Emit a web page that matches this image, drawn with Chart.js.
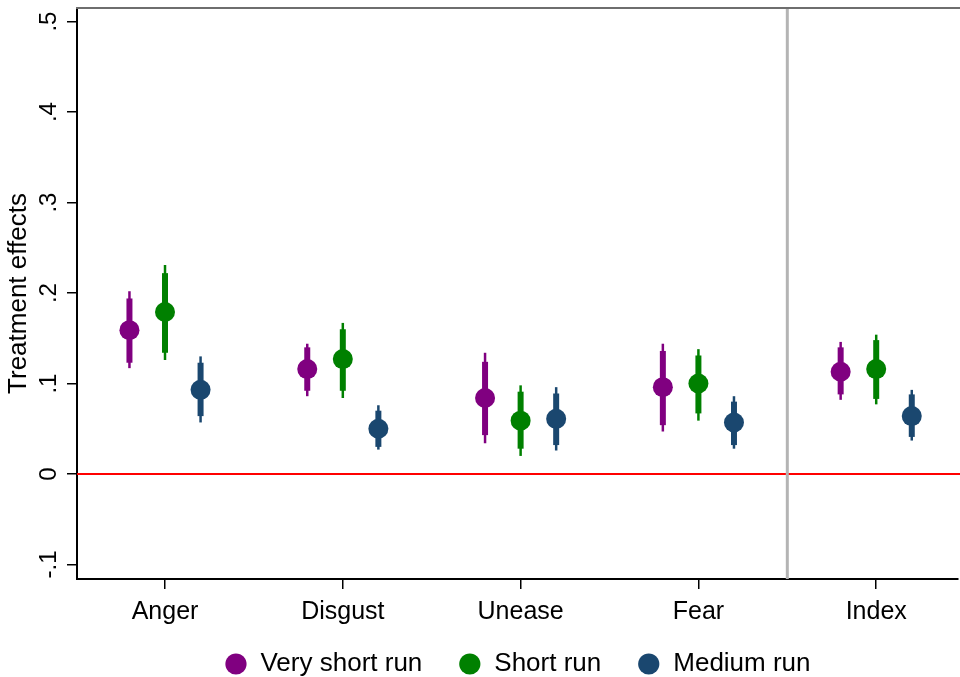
<!DOCTYPE html>
<html>
<head>
<meta charset="utf-8">
<script src="https://cdn.jsdelivr.net/npm/chart.js@4.4.0/dist/chart.umd.min.js"></script>
<style>
  html, body { margin: 0; padding: 0; background: #fff; overflow: hidden; }
  #wrap { width: 960px; height: 677px; }
</style>
</head>
<body>
<div id="wrap"><canvas id="c" width="960" height="677"></canvas></div>
<script>
// ---- data ----
const categories = ['Anger', 'Disgust', 'Unease', 'Fear', 'Index'];
const seriesNames = ['Very short run', 'Short run', 'Medium run'];
const seriesColors = ['#800080', '#008000', '#1a476f'];

const veryShortEst  = [0.159, 0.116, 0.084, 0.096, 0.113];
const veryShortLo90 = [0.123, 0.092, 0.043, 0.054, 0.088];
const veryShortHi90 = [0.194, 0.140, 0.124, 0.136, 0.140];
const veryShortLo95 = [0.117, 0.086, 0.034, 0.047, 0.082];
const veryShortHi95 = [0.202, 0.144, 0.134, 0.144, 0.146];

const shortEst  = [0.179, 0.127, 0.059, 0.100, 0.116];
const shortLo90 = [0.134, 0.092, 0.028, 0.067, 0.083];
const shortHi90 = [0.222, 0.160, 0.091, 0.131, 0.148];
const shortLo95 = [0.126, 0.084, 0.020, 0.059, 0.077];
const shortHi95 = [0.231, 0.167, 0.098, 0.138, 0.154];

const mediumEst  = [0.093, 0.050, 0.061, 0.057, 0.064];
const mediumLo90 = [0.064, 0.030, 0.032, 0.032, 0.041];
const mediumHi90 = [0.123, 0.070, 0.089, 0.080, 0.088];
const mediumLo95 = [0.057, 0.027, 0.026, 0.028, 0.037];
const mediumHi95 = [0.130, 0.076, 0.096, 0.086, 0.093];

const yTickValues = [-0.1, 0, 0.1, 0.2, 0.3, 0.4, 0.5];
const yTickLabels = ['-.1', '0', '.1', '.2', '.3', '.4', '.5'];
const xTickValues = [1, 2, 3, 4, 5];
const separatorAt = 4.5;

// ---- assembled ----
const series = [
  {est: veryShortEst, lo90: veryShortLo90, hi90: veryShortHi90, lo95: veryShortLo95, hi95: veryShortHi95},
  {est: shortEst, lo90: shortLo90, hi90: shortHi90, lo95: shortLo95, hi95: shortHi95},
  {est: mediumEst, lo90: mediumLo90, hi90: mediumHi90, lo95: mediumLo95, hi95: mediumHi95}
];
const offsets = [-0.2, 0, 0.2];

const FONT = "'Liberation Sans', Arial, Helvetica, sans-serif";
const LEGEND_H = 62;
const XAXIS_H = 36;

const datasets = series.map((s, k) => ({
  label: seriesNames[k],
  data: s.est.map((v, i) => ({x: xTickValues[i] + offsets[k], y: v})),
  backgroundColor: seriesColors[k],
  borderColor: seriesColors[k],
  borderWidth: 0,
  pointRadius: 10,
  pointHoverRadius: 10,
  pointStyle: 'circle',
  clip: false
}));

const decorPlugin = {
  id: 'decor',
  beforeLayout(chart) {
    const lg = chart.legend;
    if (lg && !lg._patched) {
      const f = lg.fit;
      lg.fit = function () { f.call(this); this.height = LEGEND_H; };
      lg._patched = true;
    }
  },
  beforeDatasetsDraw(chart) {
    const ctx = chart.ctx, xs = chart.scales.x, ys = chart.scales.y, a = chart.chartArea;
    ctx.save();
    // zero line
    ctx.strokeStyle = '#ff0000';
    ctx.lineWidth = 2;
    ctx.beginPath();
    const y0 = ys.getPixelForValue(0);
    ctx.moveTo(a.left, y0); ctx.lineTo(a.right + 2, y0); ctx.stroke();
    // separator
    ctx.strokeStyle = '#b4b4b4';
    ctx.lineWidth = 3;
    ctx.beginPath();
    const xsep = xs.getPixelForValue(separatorAt);
    ctx.moveTo(xsep, a.top); ctx.lineTo(xsep, a.bottom); ctx.stroke();
    // error bars
    ctx.lineCap = 'butt';
    series.forEach((s, k) => {
      ctx.strokeStyle = seriesColors[k];
      s.est.forEach((v, i) => {
        const x = xs.getPixelForValue(xTickValues[i] + offsets[k]);
        ctx.lineWidth = 2.5;
        ctx.beginPath();
        ctx.moveTo(x, ys.getPixelForValue(s.lo95[i]));
        ctx.lineTo(x, ys.getPixelForValue(s.hi95[i]));
        ctx.stroke();
        ctx.lineWidth = 6;
        ctx.beginPath();
        ctx.moveTo(x, ys.getPixelForValue(s.lo90[i]));
        ctx.lineTo(x, ys.getPixelForValue(s.hi90[i]));
        ctx.stroke();
      });
    });
    ctx.restore();
  },
  afterDraw(chart) {
    const ctx = chart.ctx, xs = chart.scales.x, ys = chart.scales.y, a = chart.chartArea;
    ctx.save();
    // top frame
    ctx.strokeStyle = '#6e6e6e';
    ctx.lineWidth = 2;
    ctx.beginPath();
    ctx.moveTo(a.left - 1, a.top); ctx.lineTo(960, a.top); ctx.stroke();
    ctx.fillStyle = '#000';
    // rotated y tick labels
    ctx.font = '24px ' + FONT;
    ctx.textAlign = 'center';
    ctx.textBaseline = 'alphabetic';
    yTickValues.forEach((v, i) => {
      const y = ys.getPixelForValue(v);
      ctx.save();
      ctx.translate(56, y);
      ctx.rotate(-Math.PI / 2);
      ctx.fillText(yTickLabels[i], 0, 0);
      ctx.restore();
    });
    // x category labels
    ctx.font = '25px ' + FONT;
    ctx.textAlign = 'center';
    ctx.textBaseline = 'alphabetic';
    xTickValues.forEach((v, i) => {
      ctx.fillText(categories[i], xs.getPixelForValue(v), a.bottom + 40);
    });
    ctx.restore();
  }
};

new Chart(document.getElementById('c'), {
  type: 'scatter',
  data: { datasets },
  plugins: [decorPlugin],
  options: {
    responsive: false,
    animation: false,
    devicePixelRatio: 1,
    layout: { autoPadding: false, padding: { top: 8, right: 2, left: 0, bottom: 0 } },
    plugins: {
      tooltip: { enabled: false },
      legend: {
        position: 'bottom',
        fullSize: false,
        align: 'center',
        labels: {
          usePointStyle: true,
          pointStyle: 'circle',
          boxWidth: 23,
          boxHeight: 15,
          padding: 36,
          color: '#000',
          font: { family: FONT, size: 26 }
        }
      }
    },
    scales: {
      x: {
        type: 'linear',
        min: 0.505,
        max: 5.46,
        afterBuildTicks(scale) { scale.ticks = xTickValues.map(v => ({ value: v })); },
        afterFit(scale) { scale.height = XAXIS_H; },
        ticks: { display: false },
        grid: { display: true, drawOnChartArea: false, drawTicks: true, tickLength: 10, color: '#000', lineWidth: 1.5 },
        border: { display: true, color: '#000', width: 2 }
      },
      y: {
        type: 'linear',
        min: -0.116,
        max: 0.515,
        afterBuildTicks(scale) { scale.ticks = yTickValues.map(v => ({ value: v })); },
        afterFit(scale) { scale.width = 77; },
        ticks: { display: false },
        title: {
          display: true,
          text: 'Treatment effects',
          color: '#000',
          font: { family: FONT, size: 26 },
          padding: { top: 3, bottom: 0 }
        },
        grid: { display: true, drawOnChartArea: false, drawTicks: true, tickLength: 10, color: '#000', lineWidth: 1.5 },
        border: { display: true, color: '#000', width: 2 }
      }
    }
  }
});
</script>
</body>
</html>
